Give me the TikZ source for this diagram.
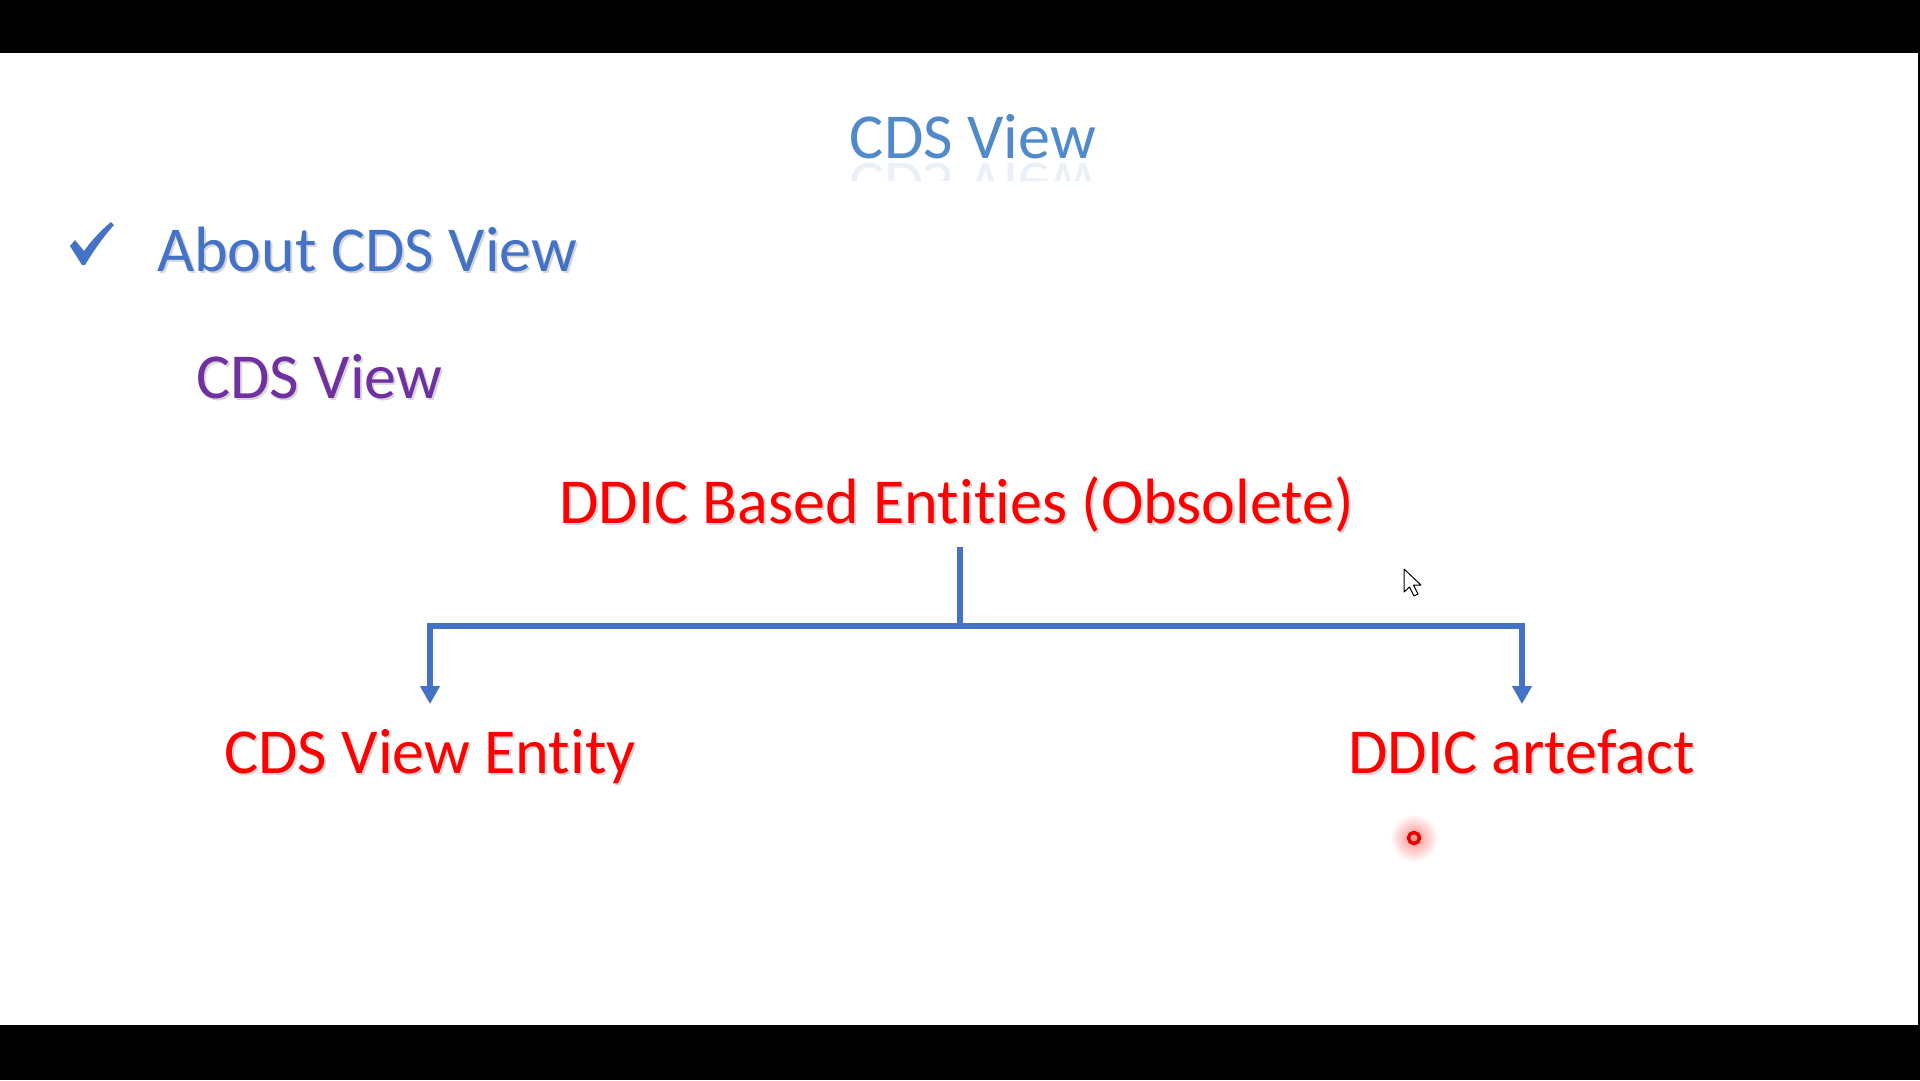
\documentclass[tikz,border=0pt]{standalone}
\usepackage{fontspec}
\setmainfont[Ligatures=NoCommon]{Carlito}
\usetikzlibrary{arrows.meta}
\definecolor{offblue}{RGB}{68,114,196}
\definecolor{ttlblue}{RGB}{80,138,202}
\definecolor{offpurple}{RGB}{112,48,160}
\definecolor{brred}{RGB}{255,0,0}
\tikzset{
  txt/.style={inner sep=0pt, anchor=base west, font=\fontsize{64.1}{77}\selectfont},
  shd/.style={txt, text=black, opacity=0.16},
  conn/.style={draw=offblue, line width=6pt, line join=miter},
  arr/.style={conn, -{Triangle[width=19pt,length=18pt]}},
}
\begin{document}
\begin{tikzpicture}[x=1pt,y=-1pt]
\useasboundingbox (0,0) rectangle (1920,1080);
\fill[black] (0,0) rectangle (1920,1080);
\fill[white] (0,53) rectangle (1918,1025);

% title with reflection
\node (title) [txt, anchor=base, text=ttlblue] at (973,158) {CDS View};
\begin{scope}
  \clip (820,161) rectangle (1120,180);
  \node (titleR) [txt, anchor=base, text=ttlblue, opacity=0.12] at (973,163) {\scalebox{1}[-1]{CDS View}};
\end{scope}

% check mark
\fill[offblue] (70,246) -- (75,240) -- (84,251) .. controls (95,236) and (104,228) .. (111,222)
  -- (114,225) .. controls (104,236) and (94,250) .. (85,265) -- (82,265) -- cycle;

% texts with soft shadows
\node (aboutS) [shd] at (159,273) {About CDS View};
\node (about) [txt, text=offblue] at (157,271) {About CDS View};
\node (cdsS) [shd] at (198,400) {CDS View};
\node (cds) [txt, text=offpurple] at (196,398) {CDS View};
\node (ddicS) [shd] at (561,525) {DDIC Based Entities (Obsolete)};
\node (ddic) [txt, text=brred] at (559,523) {DDIC Based Entities (Obsolete)};
\node (entS) [shd] at (226,775) {CDS View Entity};
\node (ent) [txt, text=brred] at (224,773) {CDS View Entity};
\node (artS) [shd] at (1350,775) {DDIC artefact};
\node (art) [txt, text=brred] at (1348,773) {DDIC artefact};

% connectors
\coordinate (stem) at (960,547);
\coordinate (j) at (960,626);
\coordinate (tipL) at (430,704);
\coordinate (tipR) at (1522,704);
\draw[conn] (stem) -- (j);
\draw[arr] (j) -| (tipL);
\draw[arr] (j) -| (tipR);

% mouse cursor
\draw[black, fill=white, line width=1pt, line join=round]
  (1404,569) -- (1404,592) -- (1409.5,587) -- (1414,596) -- (1418,594) -- (1413.5,585) -- (1421,585) -- cycle;

% laser pointer dot
\shade[inner color=red!45, outer color=white] (1414,838) circle (24);
\draw[red!90!black, line width=3.5pt] (1414,838) circle (5.5);
\end{tikzpicture}
\end{document}
